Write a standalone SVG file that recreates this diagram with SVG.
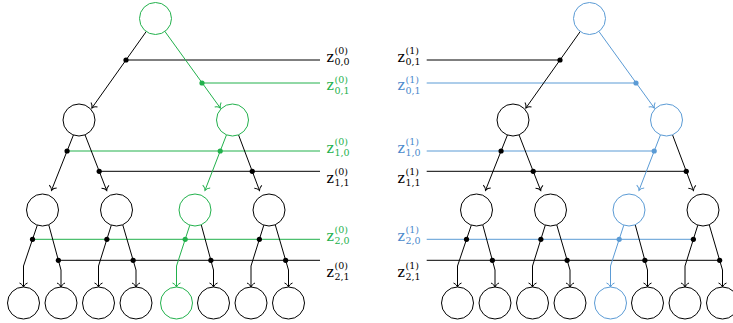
<svg xmlns="http://www.w3.org/2000/svg" width="733" height="323" viewBox="0 0 733 323">
<style>
.nk{fill:#fff;stroke:#000;stroke-width:1}
.ng{fill:#fff;stroke:#22b14c;stroke-width:1}
.nb{fill:#fff;stroke:#5b9bd5;stroke-width:1}
.ek{fill:none;stroke:#000;stroke-width:1;stroke-linejoin:round;marker-end:url(#ak)}
.eg{fill:none;stroke:#22b14c;stroke-width:1;stroke-linejoin:round;marker-end:url(#ag)}
.eb{fill:none;stroke:#5b9bd5;stroke-width:1;stroke-linejoin:round;marker-end:url(#ab)}
.hk{fill:none;stroke:#000;stroke-width:1}
.hg{fill:none;stroke:#22b14c;stroke-width:1}
.hb{fill:none;stroke:#5b9bd5;stroke-width:1}
.dk{fill:#000}
.dg{fill:#22b14c}
.db{fill:#5b9bd5}
.lab{font-family:"DejaVu Serif","Liberation Serif",serif;font-size:14px}
.s{font-size:9.5px}
.tk{fill:#000}
.tg{fill:#22b14c}
.tb{fill:#4a89cc}
</style>
<defs>
<marker id="ak" markerUnits="userSpaceOnUse" orient="auto" refX="0" refY="0" markerWidth="10" markerHeight="10" overflow="visible"><path d="M-4,-4 C-3,-1.5 -1,-0.4 0,0 C-1,0.4 -3,1.5 -4,4" fill="none" stroke="#000" stroke-width="1"/></marker>
<marker id="ag" markerUnits="userSpaceOnUse" orient="auto" refX="0" refY="0" markerWidth="10" markerHeight="10" overflow="visible"><path d="M-4,-4 C-3,-1.5 -1,-0.4 0,0 C-1,0.4 -3,1.5 -4,4" fill="none" stroke="#22b14c" stroke-width="1"/></marker>
<marker id="ab" markerUnits="userSpaceOnUse" orient="auto" refX="0" refY="0" markerWidth="10" markerHeight="10" overflow="visible"><path d="M-4,-4 C-3,-1.5 -1,-0.4 0,0 C-1,0.4 -3,1.5 -4,4" fill="none" stroke="#5b9bd5" stroke-width="1"/></marker>
</defs>

<g id="connectors">
<path class="hk" d="M126,60 H320"/>
<path class="hg" d="M202,83 H320"/>
<path class="hg" d="M67.08,151 H320"/>
<path class="hk" d="M99.22,171.3 H320"/>
<path class="hg" d="M32.53,239.3 H320"/>
<path class="hk" d="M58.37,260.3 H320"/>
<path class="ek" d="M146.4,31.3 L91.9,108"/>
<path class="eg" d="M164.8,31.3 L220.3,108"/>
<path class="ek" d="M73.5,134.8 L51.5,190.3"/>
<path class="ek" d="M85,134.8 L106.7,190.5"/>
<path class="eg" d="M226.5,134.8 L205,190.3"/>
<path class="ek" d="M238.5,134.8 L259.5,190.5"/>
<path class="ek" d="M37.3,225.2 L23.5,266 L23.5,287"/>
<path class="ek" d="M48.8,225 L61,270 L61,287"/>
<path class="ek" d="M111.3,225.2 L98.5,266 L98.5,287"/>
<path class="ek" d="M122.8,225 L136,270 L136,287"/>
<path class="eg" d="M189.8,225.2 L176.5,266 L176.5,287"/>
<path class="ek" d="M201.3,225 L213.5,270 L213.5,287"/>
<path class="ek" d="M263.8,225.2 L251,266 L251,287"/>
<path class="ek" d="M275.3,225 L288.5,270 L288.5,287"/>
<circle class="dk" cx="126" cy="60" r="2.6"/>
<circle class="dg" cx="202" cy="83" r="2.6"/>
<circle class="dk" cx="67.08" cy="151" r="2.6"/>
<circle class="dg" cx="220.22" cy="151" r="2.6"/>
<circle class="dk" cx="99.22" cy="171.3" r="2.6"/>
<circle class="dk" cx="252.26" cy="171.3" r="2.6"/>
<circle class="dk" cx="32.53" cy="239.3" r="2.6"/>
<circle class="dk" cx="106.88" cy="239.3" r="2.6"/>
<circle class="dg" cx="185.2" cy="239.3" r="2.6"/>
<circle class="dk" cx="259.38" cy="239.3" r="2.6"/>
<circle class="dk" cx="58.37" cy="260.3" r="2.6"/>
<circle class="dk" cx="133.15" cy="260.3" r="2.6"/>
<circle class="dk" cx="210.87" cy="260.3" r="2.6"/>
<circle class="dk" cx="285.65" cy="260.3" r="2.6"/>

<path class="hk" d="M426.7,60 H560"/>
<path class="hb" d="M426.7,83 H636"/>
<path class="hb" d="M426.7,151 H654.22"/>
<path class="hk" d="M426.7,171.3 H686.26"/>
<path class="hb" d="M426.7,239.3 H693.38"/>
<path class="hk" d="M426.7,260.3 H719.65"/>
<path class="ek" d="M580.4,31.3 L525.9,108"/>
<path class="eb" d="M598.8,31.3 L654.3,108"/>
<path class="ek" d="M507.5,134.8 L485.5,190.3"/>
<path class="ek" d="M519,134.8 L540.7,190.5"/>
<path class="eb" d="M660.5,134.8 L639,190.3"/>
<path class="ek" d="M672.5,134.8 L693.5,190.5"/>
<path class="ek" d="M471.3,225.2 L457.5,266 L457.5,287"/>
<path class="ek" d="M482.8,225 L495,270 L495,287"/>
<path class="ek" d="M545.3,225.2 L532.5,266 L532.5,287"/>
<path class="ek" d="M556.8,225 L570,270 L570,287"/>
<path class="eb" d="M623.8,225.2 L610.5,266 L610.5,287"/>
<path class="ek" d="M635.3,225 L647.5,270 L647.5,287"/>
<path class="ek" d="M697.8,225.2 L685,266 L685,287"/>
<path class="ek" d="M709.3,225 L722.5,270 L722.5,287"/>
<circle class="dk" cx="560" cy="60" r="2.6"/>
<circle class="db" cx="636" cy="83" r="2.6"/>
<circle class="dk" cx="501.08" cy="151" r="2.6"/>
<circle class="db" cx="654.22" cy="151" r="2.6"/>
<circle class="dk" cx="533.22" cy="171.3" r="2.6"/>
<circle class="dk" cx="686.26" cy="171.3" r="2.6"/>
<circle class="dk" cx="466.53" cy="239.3" r="2.6"/>
<circle class="dk" cx="540.88" cy="239.3" r="2.6"/>
<circle class="db" cx="619.2" cy="239.3" r="2.6"/>
<circle class="dk" cx="693.38" cy="239.3" r="2.6"/>
<circle class="dk" cx="492.37" cy="260.3" r="2.6"/>
<circle class="dk" cx="567.15" cy="260.3" r="2.6"/>
<circle class="dk" cx="644.87" cy="260.3" r="2.6"/>
<circle class="dk" cx="719.65" cy="260.3" r="2.6"/>
</g>

<g id="l-root"><circle class="ng" cx="155.5" cy="18.5" r="16"/></g>
<g id="l-n1"><circle class="nk" cx="79" cy="120" r="16"/></g>
<g id="l-n2"><circle class="ng" cx="232.5" cy="120" r="16"/></g>
<g id="l-n3"><circle class="nk" cx="42.5" cy="210" r="16"/></g>
<g id="l-n4"><circle class="nk" cx="116.5" cy="210" r="16"/></g>
<g id="l-n5"><circle class="ng" cx="195" cy="210" r="16"/></g>
<g id="l-n6"><circle class="nk" cx="269" cy="210" r="16"/></g>
<g id="l-n7"><circle class="nk" cx="23.5" cy="303" r="16"/></g>
<g id="l-n8"><circle class="nk" cx="61" cy="303" r="16"/></g>
<g id="l-n9"><circle class="nk" cx="98.5" cy="303" r="16"/></g>
<g id="l-n10"><circle class="nk" cx="136" cy="303" r="16"/></g>
<g id="l-n11"><circle class="ng" cx="176.5" cy="303" r="16"/></g>
<g id="l-n12"><circle class="nk" cx="213.5" cy="303" r="16"/></g>
<g id="l-n13"><circle class="nk" cx="251" cy="303" r="16"/></g>
<g id="l-n14"><circle class="nk" cx="288.5" cy="303" r="16"/></g>

<g id="r-root"><circle class="nb" cx="589.5" cy="18.5" r="16"/></g>
<g id="r-n1"><circle class="nk" cx="513" cy="120" r="16"/></g>
<g id="r-n2"><circle class="nb" cx="666.5" cy="120" r="16"/></g>
<g id="r-n3"><circle class="nk" cx="476.5" cy="210" r="16"/></g>
<g id="r-n4"><circle class="nk" cx="550.5" cy="210" r="16"/></g>
<g id="r-n5"><circle class="nb" cx="629" cy="210" r="16"/></g>
<g id="r-n6"><circle class="nk" cx="703" cy="210" r="16"/></g>
<g id="r-n7"><circle class="nk" cx="457.5" cy="303" r="16"/></g>
<g id="r-n8"><circle class="nk" cx="495" cy="303" r="16"/></g>
<g id="r-n9"><circle class="nk" cx="532.5" cy="303" r="16"/></g>
<g id="r-n10"><circle class="nk" cx="570" cy="303" r="16"/></g>
<g id="r-n11"><circle class="nb" cx="610.5" cy="303" r="16"/></g>
<g id="r-n12"><circle class="nk" cx="647.5" cy="303" r="16"/></g>
<g id="r-n13"><circle class="nk" cx="685" cy="303" r="16"/></g>
<g id="r-n14"><circle class="nk" cx="722.5" cy="303" r="16"/></g>

<g id="l-labels" class="lab">
<text class="tk" x="326.5" y="61.5">z<tspan class="s" x="334.5" y="54">(0)</tspan><tspan class="s" x="334.5" y="65">0,0</tspan></text>
<text class="tg" x="326.5" y="90">z<tspan class="s" x="334.5" y="82.5">(0)</tspan><tspan class="s" x="334.5" y="93.5">0,1</tspan></text>
<text class="tg" x="326.5" y="152.5">z<tspan class="s" x="334.5" y="145">(0)</tspan><tspan class="s" x="334.5" y="156">1,0</tspan></text>
<text class="tk" x="326.5" y="182.5">z<tspan class="s" x="334.5" y="175">(0)</tspan><tspan class="s" x="334.5" y="186">1,1</tspan></text>
<text class="tg" x="326.5" y="240.5">z<tspan class="s" x="334.5" y="233">(0)</tspan><tspan class="s" x="334.5" y="244">2,0</tspan></text>
<text class="tk" x="326.5" y="276.5">z<tspan class="s" x="334.5" y="269">(0)</tspan><tspan class="s" x="334.5" y="280">2,1</tspan></text>
</g>
<g id="r-labels" class="lab">
<text class="tk" x="397.5" y="61.5">z<tspan class="s" x="405.5" y="54">(1)</tspan><tspan class="s" x="405.5" y="65">0,1</tspan></text>
<text class="tb" x="397.5" y="90">z<tspan class="s" x="405.5" y="82.5">(1)</tspan><tspan class="s" x="405.5" y="93.5">0,1</tspan></text>
<text class="tb" x="397.5" y="152.5">z<tspan class="s" x="405.5" y="145">(1)</tspan><tspan class="s" x="405.5" y="156">1,0</tspan></text>
<text class="tk" x="397.5" y="182.5">z<tspan class="s" x="405.5" y="175">(1)</tspan><tspan class="s" x="405.5" y="186">1,1</tspan></text>
<text class="tb" x="397.5" y="240.5">z<tspan class="s" x="405.5" y="233">(1)</tspan><tspan class="s" x="405.5" y="244">2,0</tspan></text>
<text class="tk" x="397.5" y="276.5">z<tspan class="s" x="405.5" y="269">(1)</tspan><tspan class="s" x="405.5" y="280">2,1</tspan></text>
</g>
</svg>
